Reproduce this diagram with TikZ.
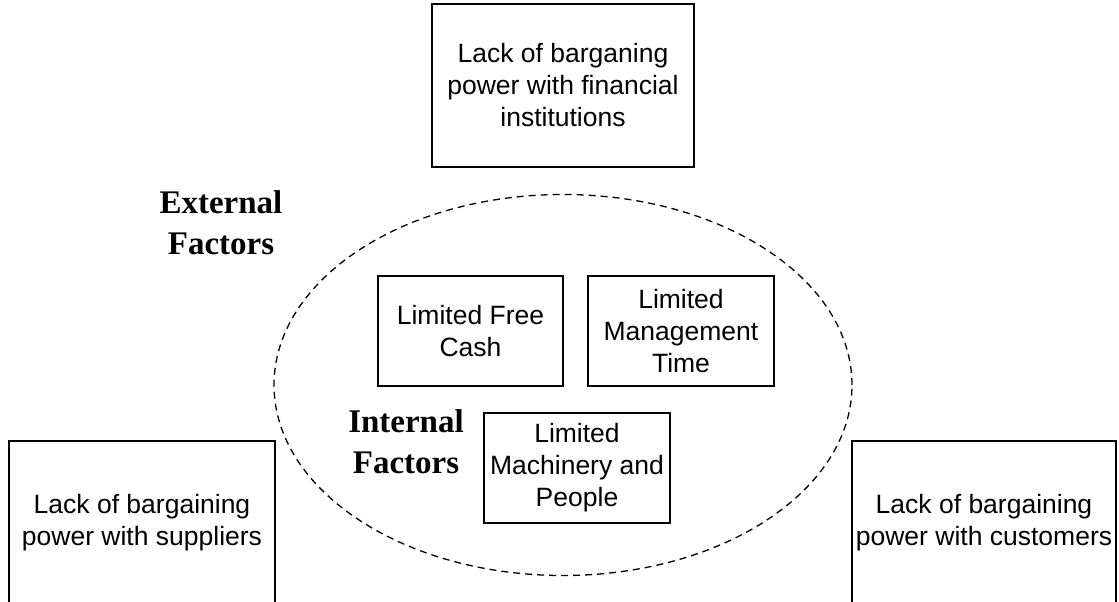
\documentclass[tikz,border=0pt]{standalone}
\usepackage{fontspec}
\setmainfont{Liberation Serif}
\setsansfont{Liberation Sans}
\usetikzlibrary{shapes.geometric}
\begin{document}
\begin{tikzpicture}[x=1pt,y=-1pt,
  factorbox/.style={draw, line width=1.4pt, inner sep=0pt, align=center,
    font=\sffamily\fontsize{26.5}{32}\selectfont},
  grouplabel/.style={inner sep=0pt, align=center,
    font=\rmfamily\bfseries\fontsize{33}{41}\selectfont},
  boundary/.style={line width=1.3pt, dash pattern=on 7pt off 5pt}]
\useasboundingbox (0,0) rectangle (1119,602);
\clip (0,0) rectangle (1119,602);

% dashed boundary around the internal factors
\node[boundary, draw, ellipse, minimum width=578pt, minimum height=381pt,
  inner sep=0pt] (firm) at (563,385) {};

% external factors
\node[factorbox, minimum width=262pt, minimum height=163pt] (fin) at (563,85.5)
  {Lack of barganing\\power with financial\\institutions};
\node[factorbox, minimum width=266pt, minimum height=164pt] (sup) at (142,523)
  {Lack of bargaining\\power with suppliers};
\node[factorbox, minimum width=264pt, minimum height=164pt] (cus) at (984,523)
  {Lack of bargaining\\power with customers};

% internal factors
\node[factorbox, minimum width=185pt, minimum height=110pt] (cash) at (470.5,331)
  {Limited Free\\Cash};
\node[factorbox, minimum width=186pt, minimum height=110pt] (mgmt) at (681,331)
  {Limited\\Management\\Time};
\node[factorbox, minimum width=186pt, minimum height=110pt] (mach) at (577,468)
  {Limited\\Machinery and\\People};

% group labels
\node[grouplabel] (ext) at (221,223) {External\\Factors};
\node[grouplabel] (int) at (406,442) {Internal\\Factors};
\end{tikzpicture}
\end{document}
